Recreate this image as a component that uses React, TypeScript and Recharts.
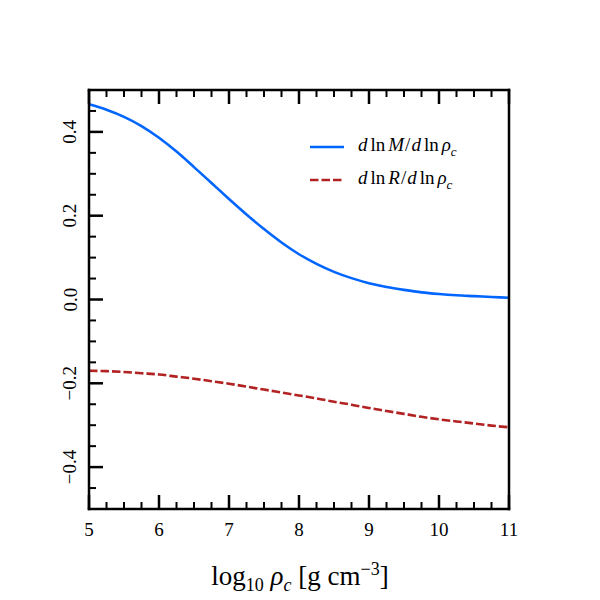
import React from "react";
import { LineChart, Line, XAxis, YAxis } from "recharts";

// log10 of central density
const logRho = [
  5.0, 5.25, 5.5, 5.75, 6.0, 6.25, 6.5, 6.75, 7.0, 7.25, 7.5, 7.75, 8.0, 8.25,
  8.5, 8.75, 9.0, 9.25, 9.5, 9.75, 10.0, 10.25, 10.5, 10.75, 11.0,
];
// d ln M / d ln rho_c
const massSlope = [
  0.466, 0.453, 0.436, 0.414, 0.386, 0.353, 0.316, 0.278, 0.24, 0.203, 0.168,
  0.136, 0.108, 0.085, 0.066, 0.051, 0.039, 0.03, 0.023, 0.017, 0.013, 0.01,
  0.008, 0.006, 0.004,
];
// d ln R / d ln rho_c
const radiusSlope = [
  -0.17, -0.171, -0.173, -0.176, -0.179, -0.184, -0.189, -0.195, -0.201,
  -0.208, -0.215, -0.222, -0.229, -0.236, -0.244, -0.251, -0.259, -0.266,
  -0.273, -0.28, -0.286, -0.291, -0.296, -0.301, -0.305,
];

const xTicks = [
  5, 5.25, 5.5, 5.75, 6, 6.25, 6.5, 6.75, 7, 7.25, 7.5, 7.75, 8, 8.25, 8.5,
  8.75, 9, 9.25, 9.5, 9.75, 10, 10.25, 10.5, 10.75, 11,
];
const yTicks = [
  -0.45, -0.4, -0.35, -0.3, -0.25, -0.2, -0.15, -0.1, -0.05, 0, 0.05, 0.1,
  0.15, 0.2, 0.25, 0.3, 0.35, 0.4, 0.45,
];

const data = logRho.map((x, i) => ({
  x,
  m: massSlope[i],
  r: radiusSlope[i],
}));

const FONT = "'Liberation Serif', 'DejaVu Serif', serif";
const BLUE = "#0066ff";
const RED = "#b22222";
const FRAME = { stroke: "#000", strokeWidth: 2.5, strokeLinecap: "square" };

// major x ticks sit on whole numbers, major y ticks on multiples of 0.2
const xIsMajor = (v: number) => Math.abs(v - Math.round(v)) < 1e-6;
const yIsMajor = (v: number) =>
  Math.abs(v * 5 - Math.round(v * 5)) < 1e-6;

const fmtY = (v: number) => {
  const s = Math.abs(v).toFixed(1);
  return v < -1e-9 ? "\u2212" + s : s;
};

function BottomTick(props: any) {
  const { x, y, payload } = props;
  const major = xIsMajor(payload.value);
  return (
    <g>
      <line
        x1={x}
        x2={x}
        y1={y}
        y2={y - (major ? 14 : 7)}
        stroke="#000"
        strokeWidth={major ? 2.5 : 2}
      />
      {major && (
        <text
          x={x}
          y={y + 27}
          textAnchor="middle"
          fontFamily={FONT}
          fontSize={19}
          fill="#000"
        >
          {String(payload.value)}
        </text>
      )}
    </g>
  );
}

function TopTick(props: any) {
  const { x, y, payload } = props;
  const major = xIsMajor(payload.value);
  return (
    <line
      x1={x}
      x2={x}
      y1={y}
      y2={y + (major ? 14 : 7)}
      stroke="#000"
      strokeWidth={major ? 2.5 : 2}
    />
  );
}

function LeftTick(props: any) {
  const { x, y, payload } = props;
  const major = yIsMajor(payload.value);
  return (
    <g>
      <line
        x1={x}
        x2={x + (major ? 14 : 7)}
        y1={y}
        y2={y}
        stroke="#000"
        strokeWidth={major ? 2.5 : 2}
      />
      {major && (
        <text
          x={70}
          y={y}
          transform={`rotate(-90 70 ${y})`}
          textAnchor="middle"
          dominantBaseline="central"
          fontFamily={FONT}
          fontSize={19}
          fill="#000"
        >
          {fmtY(payload.value)}
        </text>
      )}
    </g>
  );
}

function RightTick(props: any) {
  const { x, y, payload } = props;
  const major = yIsMajor(payload.value);
  return (
    <line
      x1={x}
      x2={x - (major ? 14 : 7)}
      y1={y}
      y2={y}
      stroke="#000"
      strokeWidth={major ? 2.5 : 2}
    />
  );
}

function Slope({ num }: { num: string }) {
  return (
    <span style={{ fontFamily: FONT, fontSize: 19, whiteSpace: "nowrap" }}>
      <i>d</i>
      <span style={{ margin: "0 3px" }}>ln</span>
      <i>{num}</i>
      <span style={{ margin: "0 1px" }}>/</span>
      <i>d</i>
      <span style={{ margin: "0 3px" }}>ln</span>
      <i>ρ</i>
      <sub style={{ fontSize: 13 }}>
        <i>c</i>
      </sub>
    </span>
  );
}

export default function App() {
  return (
    <div
      style={{
        position: "absolute",
        left: 0,
        top: 0,
        width: 600,
        height: 600,
        background: "#fff",
      }}
    >
      <LineChart
        width={600}
        height={600}
        data={data}
        margin={{ top: 70, right: 71, bottom: 51, left: 29 }}
      >
        <XAxis
          xAxisId="bottom"
          dataKey="x"
          type="number"
          domain={[5, 11]}
          ticks={xTicks}
          interval={0}
          height={40}
          axisLine={FRAME}
          tickLine={false}
          tickSize={0}
          tickMargin={0}
          tick={<BottomTick />}
        />
        <XAxis
          xAxisId="top"
          orientation="top"
          dataKey="x"
          type="number"
          domain={[5, 11]}
          ticks={xTicks}
          interval={0}
          height={20}
          axisLine={FRAME}
          tickLine={false}
          tickSize={0}
          tickMargin={0}
          tick={<TopTick />}
        />
        <YAxis
          yAxisId="left"
          type="number"
          domain={[-0.5, 0.5]}
          ticks={yTicks}
          interval={0}
          width={60}
          axisLine={FRAME}
          tickLine={false}
          tickSize={0}
          tickMargin={0}
          tick={<LeftTick />}
        />
        <YAxis
          yAxisId="right"
          orientation="right"
          type="number"
          domain={[-0.5, 0.5]}
          ticks={yTicks}
          interval={0}
          width={20}
          axisLine={FRAME}
          tickLine={false}
          tickSize={0}
          tickMargin={0}
          tick={<RightTick />}
        />
        <Line
          xAxisId="bottom"
          yAxisId="left"
          type="monotone"
          dataKey="m"
          stroke={BLUE}
          strokeWidth={2.6}
          dot={false}
          isAnimationActive={false}
        />
        <Line
          xAxisId="bottom"
          yAxisId="left"
          type="monotone"
          dataKey="r"
          stroke={RED}
          strokeWidth={2.6}
          strokeDasharray="8.5 3"
          dot={false}
          isAnimationActive={false}
        />
      </LineChart>

      <div style={{ position: "absolute", left: 308, top: 134 }}>
        <div style={{ display: "flex", alignItems: "center", height: 26 }}>
          <svg width={38} height={10} style={{ marginRight: 12 }}>
            <line x1={2} x2={36} y1={5} y2={5} stroke={BLUE} strokeWidth={2.6} />
          </svg>
          <Slope num="M" />
        </div>
        <div
          style={{
            display: "flex",
            alignItems: "center",
            height: 26,
            marginTop: 7,
          }}
        >
          <svg width={38} height={10} style={{ marginRight: 12 }}>
            <line
              x1={2}
              x2={36}
              y1={5}
              y2={5}
              stroke={RED}
              strokeWidth={2.6}
              strokeDasharray="8.5 3"
            />
          </svg>
          <Slope num="R" />
        </div>
      </div>

      <div
        style={{
          position: "absolute",
          left: 0,
          width: 600,
          top: 553,
          textAlign: "center",
          fontFamily: FONT,
          fontSize: 27,
          lineHeight: "32px",
          whiteSpace: "nowrap",
        }}
      >
        log
        <sub style={{ fontSize: 18 }}>10</sub>{" "}
        <i>ρ</i>
        <sub style={{ fontSize: 18 }}>
          <i>c</i>
        </sub>{" "}
        [g cm
        <sup style={{ fontSize: 18 }}>−3</sup>]
      </div>
    </div>
  );
}
